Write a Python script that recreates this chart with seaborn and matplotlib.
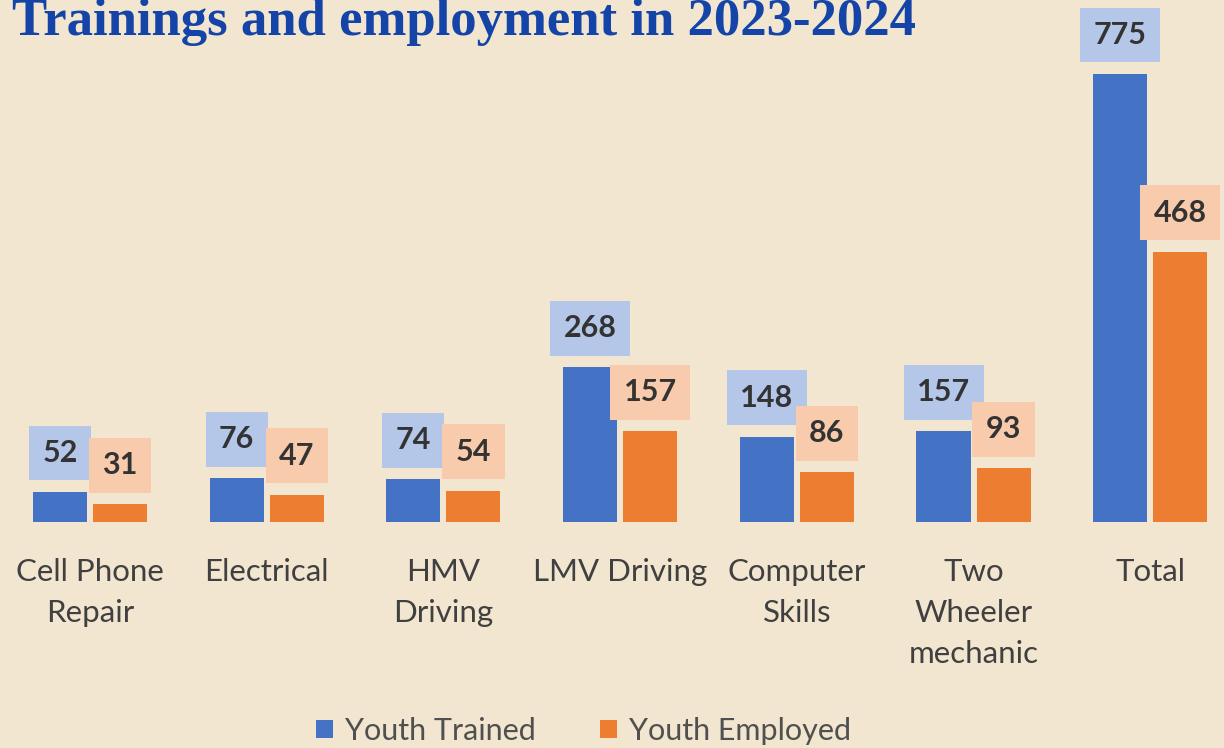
import matplotlib
matplotlib.use("Agg")
import matplotlib.pyplot as plt
import seaborn as sns
import pandas as pd

# Dados do gráfico
categorias = ["Cell Phone\nRepair", "Electrical", "HMV\nDriving", "LMV Driving",
              "Computer\nSkills", "Two\nWheeler\nmechanic", "Total"]
jovens_treinados = [52, 76, 74, 268, 148, 157, 775]
jovens_empregados = [31, 47, 54, 157, 86, 93, 468]
series = ["Youth Trained", "Youth Employed"]

cor_fundo = "#F2E6D0"
cores = ["#4472C4", "#ED7D31"]
cores_caixa = ["#B4C7E9", "#F8CBAD"]

df = pd.DataFrame({
    "categoria": categorias * 2,
    "valor": jovens_treinados + jovens_empregados,
    "serie": [series[0]] * len(categorias) + [series[1]] * len(categorias),
})

sns.set_style("white", rc={"axes.facecolor": cor_fundo, "figure.facecolor": cor_fundo})
plt.rcParams["font.family"] = ["Lato", "DejaVu Sans"]

fig = plt.figure(figsize=(12.24, 7.48), dpi=100)
ax = fig.add_axes([0.0, 0.302, 1.0, 0.698])

sns.barplot(data=df, x="categoria", y="valor", hue="serie", palette=cores,
            width=0.68, gap=0.1, linewidth=0, saturation=1, ax=ax, legend=False)

ax.set_xlim(-0.509, 6.417)
ax.set_ylim(0, 903)

# Rótulos de valor com caixa colorida
for cont, cor_cx in zip(ax.containers, cores_caixa):
    ax.bar_label(cont, padding=18, fontsize=22, fontweight="bold", color="#333333",
                 bbox=dict(boxstyle="square,pad=0.44", fc=cor_cx, ec="none"))

for s in ax.spines.values():
    s.set_visible(False)
ax.set_yticks([])
ax.set_xlabel("")
ax.set_ylabel("")
ax.tick_params(axis="x", length=0, pad=26, labelsize=22.5, labelcolor="#404040")
for lbl in ax.get_xticklabels():
    lbl.set_linespacing(1.55)
    lbl.set_va("top")

# Legenda
alças = [plt.Rectangle((0, 0), 1, 1, fc=c, ec="none") for c in cores]
fig.legend(alças, series, loc="center", bbox_to_anchor=(584 / 1224, 1 - 731 / 748),
           ncol=2, frameon=False, fontsize=22, handlelength=0.55, handleheight=0.55,
           handletextpad=0.4, columnspacing=2.1, labelcolor="#505050")

fig.text(12 / 1224, 1 - 22 / 748, "Trainings and employment in 2023-2024",
         family="Liberation Serif", fontweight="bold", fontsize=38, color="#1444A8",
         ha="left", va="center")

fig.savefig("out.png", dpi=100, facecolor=cor_fundo)
